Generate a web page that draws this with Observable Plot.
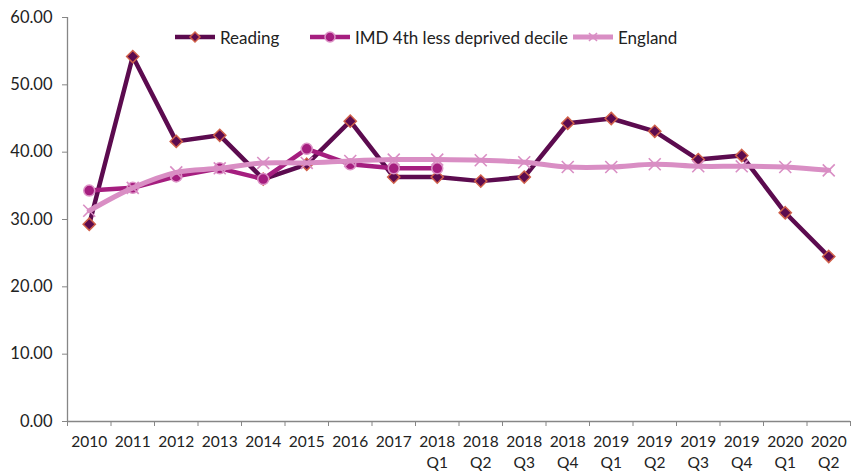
<!DOCTYPE html>
<html>
<head>
<meta charset="utf-8">
<script src="https://cdn.jsdelivr.net/npm/d3@7"></script>
<script src="https://cdn.jsdelivr.net/npm/@observablehq/plot@0.6"></script>
<style>
  body { margin: 0; background: #fff; }
  #wrap { position: relative; width: 851px; height: 472px; font-family: Lato, sans-serif; }
  #legend { position: absolute; top: 27px; left: 0; width: 851px; height: 20px; font-size: 17px; color: #222; }
  .item { position: absolute; display: flex; align-items: center; height: 20px; }
  .item svg { margin-right: 4px; }
</style>
</head>
<body>
<div id="wrap">
  <div id="chart"></div>
  <div id="legend"></div>
</div>
<script>
const categories = ["2010","2011","2012","2013","2014","2015","2016","2017","2018\nQ1","2018\nQ2","2018\nQ3","2018\nQ4","2019\nQ1","2019\nQ2","2019\nQ3","2019\nQ4","2020\nQ1","2020\nQ2"];
const reading = [29.3, 54.2, 41.6, 42.5, 36.0, 38.2, 44.6, 36.3, 36.3, 35.7, 36.3, 44.3, 45.0, 43.1, 38.9, 39.5, 31.0, 24.5];
const imd = [34.3, 34.7, 36.4, 37.6, 36.0, 40.5, 38.2, 37.6, 37.6];
const england = [31.3, 34.7, 37.0, 37.6, 38.4, 38.4, 38.7, 38.9, 38.9, 38.8, 38.5, 37.8, 37.8, 38.2, 37.9, 37.9, 37.8, 37.3];
const yTicks = [0, 10, 20, 30, 40, 50, 60];
const seriesNames = ["Reading", "IMD 4th less deprived decile", "England"];

const cReading = "#5c0b4f", cReadingMk = "#d0604a";
const cImd = "#a51e7f", cImdMk = "#dc93c6";
const cEng = "#d98ec4";

const toRows = arr => arr.map((v, i) => ({i, v}));
const rRows = toRows(reading), iRows = toRows(imd), eRows = toRows(england);
const idx = categories.map((_, i) => i);
const bounds = categories.map((_, i) => i - 0.5).concat([categories.length - 0.5]);
const font = 'Lato, sans-serif';

const chart = Plot.plot({
  width: 851, height: 472,
  marginLeft: 67, marginRight: 1, marginTop: 17, marginBottom: 51,
  style: {fontFamily: font, fontSize: "16px", color: "#222", background: "#fff"},
  x: {type: "linear", domain: [-0.5, categories.length - 0.5]},
  y: {domain: [0, 60]},
  marks: [
    Plot.axisY({ticks: yTicks, tickFormat: d => d.toFixed(2), tickSize: 5, tickPadding: 10, stroke: "#868686", fill: "#222", label: null, fontSize: 16.5, fontWeight: 400}),
    Plot.axisX({ticks: bounds, tickFormat: () => "", tickSize: 5, stroke: "#868686", label: null}),
    Plot.axisX({ticks: idx, tickFormat: i => categories[i], tickSize: 0, tickPadding: 11, lineHeight: 1.35, fill: "#222", label: null, fontSize: 15.5, fontWeight: 400}),
    Plot.ruleX([-0.5], {y1: 0, y2: 60, stroke: "#868686", strokeWidth: 1.3}),
    Plot.ruleY([0], {stroke: "#868686", strokeWidth: 1.3}),
    Plot.line(rRows, {x: "i", y: "v", stroke: cReading, strokeWidth: 4.5, strokeLinejoin: "round"}),
    Plot.dot(rRows, {x: "i", y: "v", symbol: "diamond2", r: 5.5, fill: cReading, stroke: cReadingMk, strokeWidth: 1.5}),
    Plot.line(iRows, {x: "i", y: "v", stroke: cImd, strokeWidth: 4.5, strokeLinejoin: "round"}),
    Plot.dot(iRows, {x: "i", y: "v", symbol: "circle", r: 5.5, fill: cImd, stroke: cImdMk, strokeWidth: 1.5}),
    Plot.line(eRows, {x: "i", y: "v", stroke: cEng, strokeWidth: 5, curve: "catmull-rom"}),
    Plot.dot(eRows, {x: "i", y: "v", symbol: "times", r: 5.5, stroke: cEng, strokeWidth: 1.6})
  ]
});
document.getElementById("chart").append(chart);

// legend
const legend = document.getElementById("legend");
const lx = [175, 310, 573];
const mk = [
  `<line x1="0" y1="10" x2="40" y2="10" stroke="${cReading}" stroke-width="4.5"/><path d="M20 5 L25 10 L20 15 L15 10 Z" fill="${cReading}" stroke="${cReadingMk}" stroke-width="1.5"/>`,
  `<line x1="0" y1="10" x2="40" y2="10" stroke="${cImd}" stroke-width="4.5"/><circle cx="20" cy="10" r="5" fill="${cImd}" stroke="${cImdMk}" stroke-width="1.5"/>`,
  `<line x1="0" y1="10" x2="40" y2="10" stroke="${cEng}" stroke-width="5"/><path d="M16 6 L24 14 M24 6 L16 14" stroke="${cEng}" stroke-width="1.6"/>`
];
seriesNames.forEach((name, k) => {
  const d = document.createElement("div");
  d.className = "item";
  d.style.left = lx[k] + "px";
  d.innerHTML = `<svg width="41" height="20">${mk[k]}</svg><span>${name}</span>`;
  legend.append(d);
});
</script>
</body>
</html>
